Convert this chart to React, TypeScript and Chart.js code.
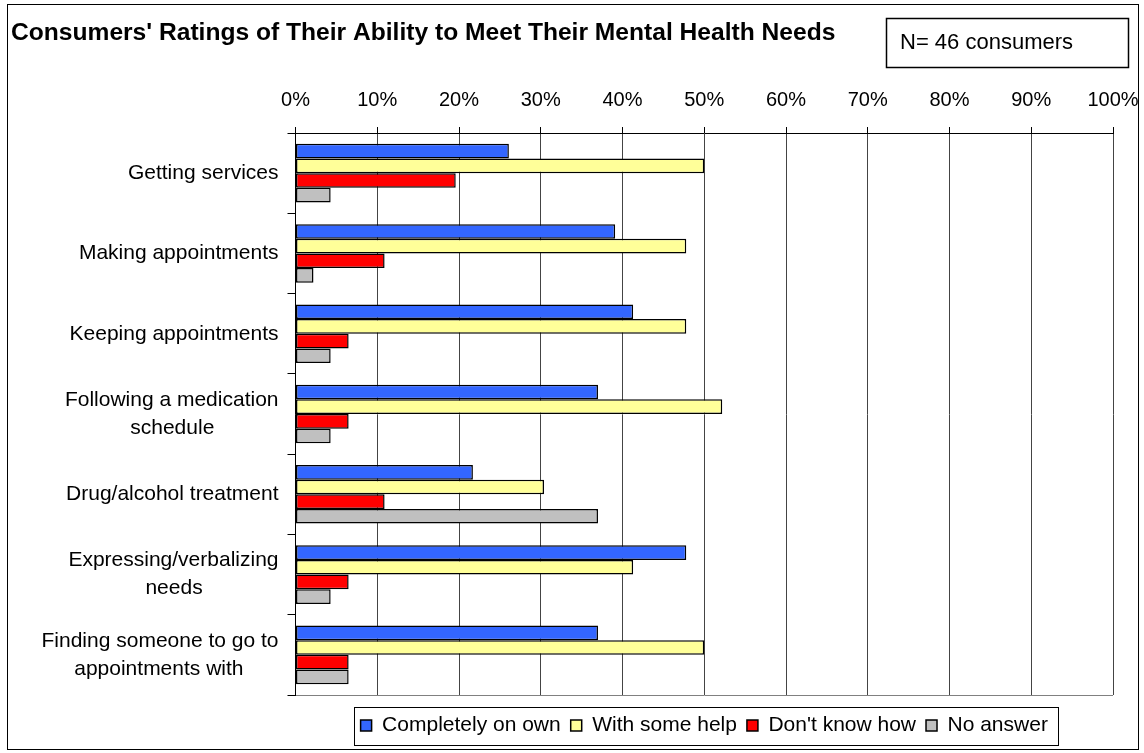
import React, { useEffect, useRef } from "react";
import { Chart, registerables } from "chart.js";

Chart.register(...registerables);

const TITLE = "Consumers' Ratings of Their Ability to Meet Their Mental Health Needs";
const N_TEXT = "N= 46 consumers";

const categories: (string | string[])[] = [
  "Getting services",
  "Making appointments",
  "Keeping appointments",
  ["Following a medication", "schedule" + " ".repeat(11)],
  "Drug/alcohol treatment",
  ["Expressing/verbalizing", "needs" + " ".repeat(13)],
  ["Finding someone to go to", "appointments with" + " ".repeat(6)],
];

const seriesNames = ["Completely on own", "With some help", "Don't know how", "No answer"];
const completelyOnOwn = [26.1, 39.1, 41.3, 37.0, 21.7, 47.8, 37.0];
const withSomeHelp = [50.0, 47.8, 47.8, 52.2, 30.4, 41.3, 50.0];
const dontKnowHow = [19.6, 10.9, 6.5, 6.5, 10.9, 6.5, 6.5];
const noAnswer = [4.3, 2.2, 4.3, 4.3, 37.0, 4.3, 6.5];
const seriesColors = ["#3366FF", "#FFFF99", "#FF0000", "#C0C0C0"];

const FONT = "'Liberation Sans', Arial, sans-serif";

const framePlugin = {
  id: "frame",
  afterDraw(chart: any) {
    const ctx = chart.ctx;
    ctx.save();
    ctx.strokeStyle = "#000";
    ctx.lineWidth = 1;
    // outer border
    ctx.strokeRect(7.5, 4.5, 1131, 745);
    // N box
    ctx.lineWidth = 1.5;
    ctx.strokeRect(886.5, 18.5, 242, 49);
    ctx.fillStyle = "#000";
    ctx.font = `22px ${FONT}`;
    ctx.textBaseline = "middle";
    ctx.textAlign = "left";
    ctx.fillText(N_TEXT, 900, 43);
    // legend box
    const lg = chart.legend;
    if (lg && lg.legendHitBoxes && lg.legendHitBoxes.length) {
      const hb = lg.legendHitBoxes;
      let l = Infinity, r = -Infinity;
      hb.forEach((h: any) => {
        l = Math.min(l, h.left);
        r = Math.max(r, h.left + h.width);
      });
      const cy = hb[0].top + hb[0].height / 2;
      ctx.lineWidth = 1;
      ctx.strokeRect(Math.round(l - 7) + 0.5, Math.round(cy - 19) + 0.5, Math.round(r - l + 17), 38);
    }
    ctx.restore();
  },
};

export default function App() {
  const ref = useRef<HTMLCanvasElement>(null);
  useEffect(() => {
    if (!ref.current) return;
    const data = [completelyOnOwn, withSomeHelp, dontKnowHow, noAnswer];
    const chart = new Chart(ref.current, {
      type: "bar",
      data: {
        labels: categories as any,
        datasets: seriesNames.map((name, i) => ({
          label: name,
          data: data[i],
          backgroundColor: seriesColors[i],
          borderColor: "#000",
          borderWidth: 1.5,
          borderSkipped: false,
          categoryPercentage: 0.73,
          barPercentage: 1,
        })),
      },
      options: {
        indexAxis: "y",
        responsive: false,
        animation: false,
        layout: { padding: { left: 11, right: 31, top: 0, bottom: 7 } },
        plugins: {
          tooltip: { enabled: false },
          title: {
            display: true,
            text: TITLE,
            align: "start",
            color: "#000",
            font: { family: FONT, size: 24.6, weight: "bold", lineHeight: 1.2 },
            padding: { top: 18.2, bottom: 0 },
          },
          legend: {
            position: "bottom",
            fullSize: false,
            title: { display: true, text: " ", padding: 0, font: { size: 10, lineHeight: 1 } },
            labels: {
              color: "#000",
              font: { family: FONT, size: 21 },
              boxWidth: 11,
              boxHeight: 11,
              padding: 10,
            },
          },
        },
        scales: {
          x: {
            position: "top",
            min: 0,
            max: 100,
            afterFit: (s: any) => {
              s.height = 85.3;
              s.paddingLeft = 0;
              s.paddingRight = 0;
            },
            ticks: {
              stepSize: 10,
              color: "#000",
              padding: 15,
              font: { family: FONT, size: 20 },
              callback: (v: any) => v + "%",
            },
            grid: { color: "#444", tickLength: 6, tickColor: "#000" },
            border: { display: true, color: "#000", width: 1 },
          },
          y: {
            afterFit: (s: any) => {
              s.width = 284.5;
            },
            ticks: {
              color: "#000",
              padding: 9,
              font: { family: FONT, size: 21, lineHeight: 1.33 },
            },
            grid: {
              offset: true,
              drawOnChartArea: true,
              tickLength: 8,
              tickColor: "#000",
              color: (ctx: any) => (ctx.type === "scale" ? "#808080" : "rgba(0,0,0,0)"),
            },
            border: { display: true, color: "#000", width: 1 },
          },
        },
      },
      plugins: [framePlugin],
    } as any);
    return () => chart.destroy();
  }, []);
  return (
    <div style={{ position: "absolute", left: 0, top: 0, width: 1144, height: 753, background: "#fff" }}>
      <canvas ref={ref} width={1144} height={753} style={{ display: "block" }} />
    </div>
  );
}
